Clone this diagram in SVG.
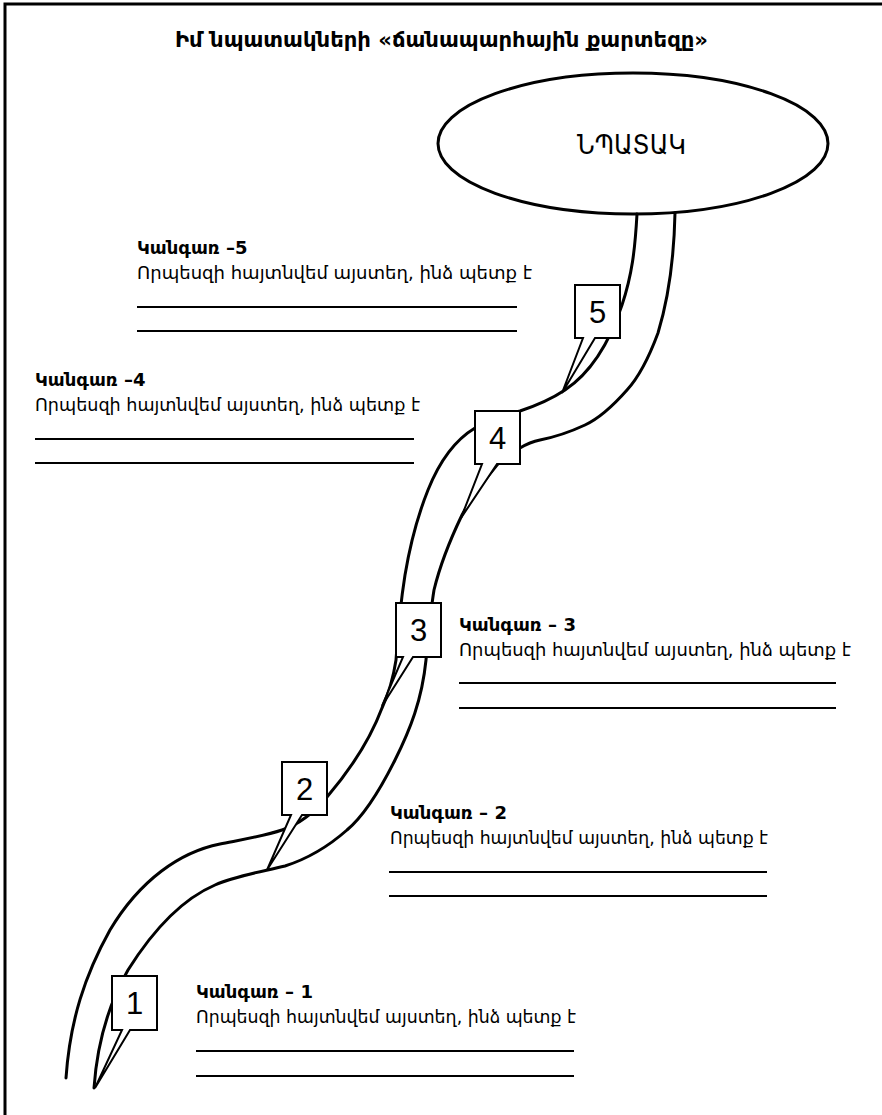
<svg xmlns="http://www.w3.org/2000/svg" width="882" height="1115" viewBox="0 0 882 1115">
<style>
.frame{fill:none;stroke:#000;stroke-width:3}
.road{fill:none;stroke:#000;stroke-width:3;stroke-linecap:round}
.call{fill:#fff;stroke:#000;stroke-width:2;stroke-linejoin:miter}
.num{font-family:"Liberation Sans",Arial,sans-serif;font-size:31px;fill:#000;text-anchor:middle}
.title{font-family:"DejaVu Sans",sans-serif;font-weight:bold;font-size:21px;fill:#000}
.head{font-family:"DejaVu Sans",sans-serif;font-weight:bold;font-size:18px;fill:#000}
.body{font-family:"DejaVu Sans",sans-serif;font-size:18px;fill:#000}
.rule{stroke:#000;stroke-width:2}
</style>
<rect width="882" height="1115" fill="#fff"/>
<path class="frame" d="M5,1115 V4 H882"/>
<text class="title" x="175" y="47" textLength="533" lengthAdjust="spacingAndGlyphs">Իմ նպատակների «ճանապարհային քարտեզը»</text>

<g id="goal">
<ellipse cx="633" cy="143.5" rx="195" ry="70.5" fill="#fff" stroke="#000" stroke-width="3"/>
<text x="577" y="154" font-family="DejaVu Sans, sans-serif" font-size="27" textLength="109" lengthAdjust="spacingAndGlyphs">ՆՊԱՏԱԿ</text>
</g>

<g id="connectors">
<path class="road" d="M637,214 C635,250 632,275 622,305 C612,335 595,370 565,390 C550,400 535,406 520,411 C500,417 485,422 475,428 C455,440 440,460 428,490 C418,515 410,545 405,575 C401,600 398,630 396,660 C393,680 388,695 382,708 C370,740 350,770 327,797 C315,812 298,825 282,830 C265,836 240,840 220,844 C180,852 140,880 110,930 C85,975 70,1020 66,1078"/>
<path class="road" d="M675,213 C674,260 668,300 658,333 C648,360 638,378 627,390 C612,407 600,418 585,425 C570,432 555,437 540,440 C530,442 525,445 520,448 C510,452 503,458 497,465 C483,482 470,500 462,515 C450,540 440,565 434,590 C430,615 428,640 426,660 C422,700 410,730 395,760 C380,790 365,815 347,830 C330,845 310,858 285,866 C260,872 235,876 215,885 C180,900 150,935 128,970 C108,1005 97,1045 94,1088"/>
</g>

<g id="stop5">
<path class="call" d="M575,285 H620 V338 H595 L562,393 L583,338 H575 Z"/>
<text class="num" x="597.5" y="322.5">5</text>
</g>
<g id="stop4">
<path class="call" d="M475,411 H520 V464 H497 L461,518 L482,464 H475 Z"/>
<text class="num" x="497.5" y="448.5">4</text>
</g>
<g id="stop3">
<path class="call" d="M396,603 H441 V657 H413 L382,706 L403,657 H396 Z"/>
<text class="num" x="418.5" y="641">3</text>
</g>
<g id="stop2">
<path class="call" d="M282,762 H327 V815 H302 L267,870 L291,815 H282 Z"/>
<text class="num" x="304.5" y="799.5">2</text>
</g>
<g id="stop1">
<path class="call" d="M112,976 H157 V1030 H130 L95,1088 L122,1030 H112 Z"/>
<text class="num" x="134.5" y="1014">1</text>
</g>

<g id="note5">
<text class="head" x="137" y="254">Կանգառ –5</text>
<text class="body" x="137" y="279" textLength="395" lengthAdjust="spacingAndGlyphs">Որպեսզի հայտնվեմ այստեղ, ինձ պետք է</text>
<line class="rule" x1="137" y1="307" x2="517" y2="307"/>
<line class="rule" x1="137" y1="331" x2="517" y2="331"/>
</g>
<g id="note4">
<text class="head" x="35" y="386">Կանգառ –4</text>
<text class="body" x="35" y="411" textLength="385" lengthAdjust="spacingAndGlyphs">Որպեսզի հայտնվեմ այստեղ, ինձ պետք է</text>
<line class="rule" x1="35" y1="439" x2="414" y2="439"/>
<line class="rule" x1="35" y1="463" x2="414" y2="463"/>
</g>
<g id="note3">
<text class="head" x="459" y="631">Կանգառ – 3</text>
<text class="body" x="459" y="656" textLength="392" lengthAdjust="spacingAndGlyphs">Որպեսզի հայտնվեմ այստեղ, ինձ պետք է</text>
<line class="rule" x1="459" y1="683" x2="836" y2="683"/>
<line class="rule" x1="459" y1="708" x2="836" y2="708"/>
</g>
<g id="note2">
<text class="head" x="390" y="819">Կանգառ – 2</text>
<text class="body" x="390" y="844" textLength="378" lengthAdjust="spacingAndGlyphs">Որպեսզի հայտնվեմ այստեղ, ինձ պետք է</text>
<line class="rule" x1="389" y1="872" x2="767" y2="872"/>
<line class="rule" x1="389" y1="896" x2="767" y2="896"/>
</g>
<g id="note1">
<text class="head" x="196" y="998">Կանգառ – 1</text>
<text class="body" x="196" y="1023" textLength="380" lengthAdjust="spacingAndGlyphs">Որպեսզի հայտնվեմ այստեղ, ինձ պետք է</text>
<line class="rule" x1="196" y1="1051" x2="574" y2="1051"/>
<line class="rule" x1="196" y1="1076" x2="574" y2="1076"/>
</g>
</svg>
